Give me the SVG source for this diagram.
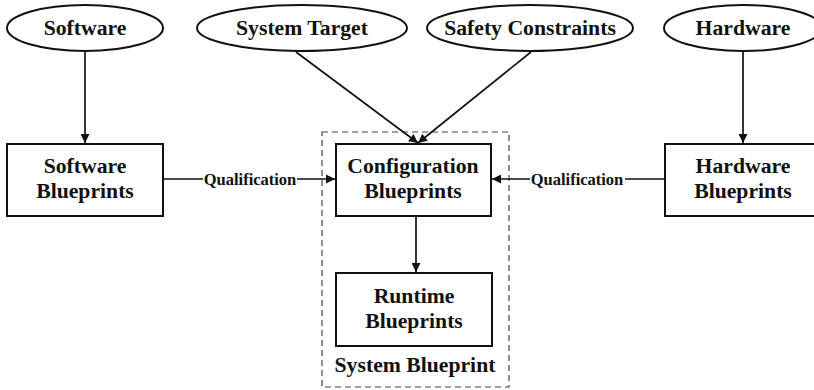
<svg xmlns="http://www.w3.org/2000/svg" width="814" height="390" viewBox="0 0 814 390">
  <style>
    text { font-family: "Liberation Serif", "Times New Roman", serif; font-weight: bold; fill: #111; text-anchor: middle; }
    .big { font-size: 21.7px; }
    .lbl { font-size: 16.5px; }
    .node { fill: #fff; stroke: #111; stroke-width: 2; }
    .edge { stroke: #111; stroke-width: 1.7; fill: none; }
    .group { fill: none; stroke: #444; stroke-width: 1.2; stroke-dasharray: 6 4; }
  </style>
  <defs>
    <marker id="arrow" viewBox="0 0 10 10" refX="10" refY="5" markerWidth="11" markerHeight="9" markerUnits="userSpaceOnUse" orient="auto">
      <path d="M0,0 L10,5 L0,10 z" fill="#111"/>
    </marker>
  </defs>

  <rect width="814" height="390" fill="#fff"/>

  <!-- dashed container for the system blueprint -->
  <g id="system-blueprint">
    <rect class="group" x="322" y="132" width="187" height="255"/>
    <text class="big" x="415" y="372">System Blueprint</text>
  </g>

  <g id="connectors">
    <line class="edge" x1="85" y1="52" x2="85" y2="143" marker-end="url(#arrow)"/>
    <line class="edge" x1="743" y1="52" x2="743" y2="143" marker-end="url(#arrow)"/>
    <line class="edge" x1="296" y1="52" x2="418" y2="143" marker-end="url(#arrow)"/>
    <line class="edge" x1="531" y1="52" x2="418" y2="143" marker-end="url(#arrow)"/>
    <line class="edge" x1="416" y1="216" x2="416" y2="272" marker-end="url(#arrow)"/>
    <!-- qualification links -->
    <line class="edge" x1="163" y1="179" x2="203" y2="179"/>
    <line class="edge" x1="297" y1="179" x2="335" y2="179" marker-end="url(#arrow)"/>
    <text class="lbl" x="250" y="185">Qualification</text>
    <line class="edge" x1="665" y1="179" x2="625" y2="179"/>
    <line class="edge" x1="530" y1="179" x2="492" y2="179" marker-end="url(#arrow)"/>
    <text class="lbl" x="577" y="185">Qualification</text>
  </g>

  <g id="software">
    <ellipse class="node" cx="85" cy="28" rx="78" ry="23"/>
    <text class="big" x="85" y="35">Software</text>
  </g>
  <g id="system-target">
    <ellipse class="node" cx="302" cy="28" rx="105" ry="23"/>
    <text class="big" x="302" y="35">System Target</text>
  </g>
  <g id="safety-constraints">
    <ellipse class="node" cx="530" cy="28" rx="103" ry="23"/>
    <text class="big" x="530" y="35">Safety Constraints</text>
  </g>
  <g id="hardware">
    <ellipse class="node" cx="743" cy="28" rx="79" ry="23"/>
    <text class="big" x="743" y="35">Hardware</text>
  </g>

  <g id="software-blueprints">
    <rect class="node" x="7" y="144" width="156" height="72"/>
    <text class="big" x="85" y="173">Software</text>
    <text class="big" x="85" y="198">Blueprints</text>
  </g>
  <g id="configuration-blueprints">
    <rect class="node" x="336" y="144" width="155" height="72"/>
    <text class="big" x="413" y="173">Configuration</text>
    <text class="big" x="413" y="198">Blueprints</text>
  </g>
  <g id="hardware-blueprints">
    <rect class="node" x="665" y="144" width="156" height="72"/>
    <text class="big" x="743" y="173">Hardware</text>
    <text class="big" x="743" y="198">Blueprints</text>
  </g>
  <g id="runtime-blueprints">
    <rect class="node" x="336" y="273" width="156" height="73"/>
    <text class="big" x="414" y="303">Runtime</text>
    <text class="big" x="414" y="328">Blueprints</text>
  </g>
</svg>
